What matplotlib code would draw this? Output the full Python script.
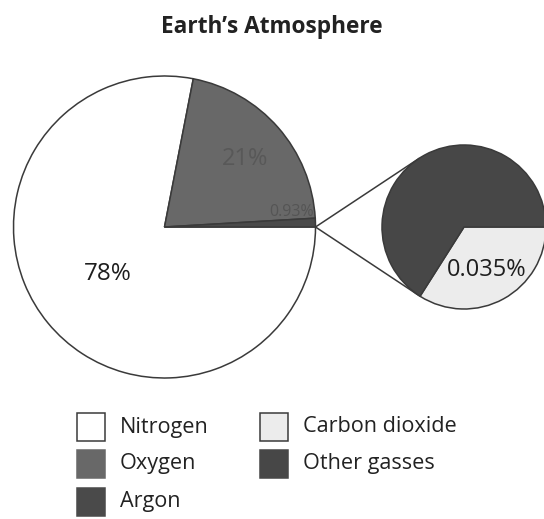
import numpy as np
import matplotlib
matplotlib.use("Agg")
import matplotlib.pyplot as plt
from matplotlib.patches import Rectangle

plt.rcParams["font.family"] = ["Open Sans", "DejaVu Sans"]

# Composition of dry air (percent by volume)
main_gases = ["Nitrogen", "Oxygen", "Argon"]
main_shares = [78, 21, 0.93]
main_labels = ["78%", "21%", "0.93%"]

# Magnified view of the trace remainder
inset_gases = ["Carbon dioxide", "Other gasses"]
inset_shares = [34, 66]
inset_labels = ["0.035%", ""]

legend_order = ["Nitrogen", "Oxygen", "Argon", "Carbon dioxide", "Other gasses"]

colors = {
    "Nitrogen": "#ffffff",
    "Oxygen": "#686868",
    "Argon": "#4a4a4a",
    "Carbon dioxide": "#ececec",
    "Other gasses": "#474747",
}
edge = "#3a3a3a"

W, H = 544, 519
fig = plt.figure(figsize=(W / 100, H / 100), dpi=100)
ax = fig.add_axes([0, 0, 1, 1])

# Main pie
c_main = (164.5, 292.0)
r_main = 151.0
ax.pie(main_shares, colors=[colors[g] for g in main_gases],
       startangle=0, counterclock=False, center=c_main, radius=r_main,
       wedgeprops=dict(edgecolor=edge, linewidth=1.1), frame=True)

# Inset pie
c_in = (464.0, 292.0)
r_in = 82.0
ax.pie(inset_shares, colors=[colors[g] for g in inset_gases],
       startangle=0, counterclock=False, center=c_in, radius=r_in,
       wedgeprops=dict(edgecolor=edge, linewidth=1.1), frame=True)

ax.set_xlim(0, W)
ax.set_ylim(0, H)
ax.set_aspect("equal")
ax.axis("off")

# Connector lines: from the edge of the main pie, tangent to the inset pie
px, py = c_main[0] + r_main, c_main[1]
d = c_in[0] - px
alpha = np.degrees(np.arccos(r_in / d))
for sgn in (1, -1):
    ang = np.radians(180 - sgn * alpha)
    tx = c_in[0] + r_in * np.cos(ang)
    ty = c_in[1] + r_in * np.sin(ang)
    ax.plot([px, tx], [py, ty], color=edge, lw=1.1, zorder=0.5)

# Percent labels
def polar(center, r, deg):
    a = np.radians(deg)
    return center[0] + r * np.cos(a), center[1] + r * np.sin(a)

x, y = polar(c_main, 0.49 * r_main, 219.5)
ax.text(x, y, main_labels[0], ha="center", va="center", fontsize=17.5, color="#1e1e1e")
x, y = polar(c_main, 0.70 * r_main, 40)
ax.text(x, y, main_labels[1], ha="center", va="center", fontsize=17, color="#585858")
x, y = polar(c_main, 0.85 * r_main, 6.7)
ax.text(x, y, main_labels[2], ha="center", va="center", fontsize=11.5, color="#555555")
x, y = polar(c_in, 0.60 * r_in, -62)
ax.text(x, y, inset_labels[0], ha="center", va="center", fontsize=17, color="#1e1e1e")

# Title
ax.text(272, H - 27, "Earth\u2019s Atmosphere", ha="center", va="center",
        fontsize=16.3, fontweight="bold", color="#222222")

# Legend
col_x = [77, 260]
row_y = [H - 427, H - 464, H - 502]
sq = 28
for i, g in enumerate(legend_order):
    col, row = divmod(i, 3)
    x0, yc = col_x[col], row_y[row]
    bordered = g in ("Nitrogen", "Carbon dioxide")
    ax.add_patch(Rectangle((x0, yc - sq / 2), sq, sq, facecolor=colors[g],
                           edgecolor=edge if bordered else colors[g], lw=1.1))
    ax.text(x0 + sq + 15, yc, g, ha="left", va="center", fontsize=15.6, color="#222222")

fig.savefig("out.png", dpi=100)
